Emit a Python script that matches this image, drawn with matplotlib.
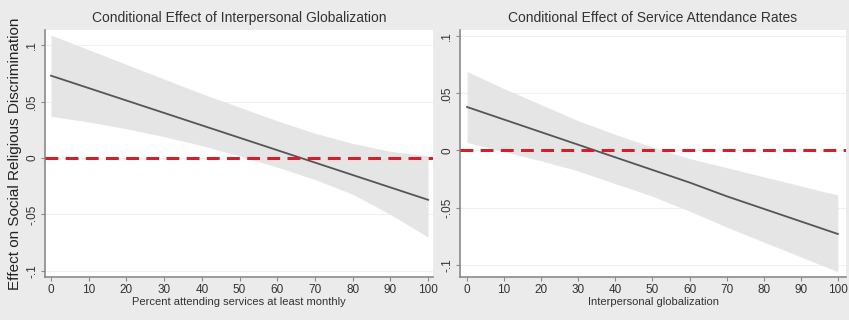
# Conditional effect plots (two panels), Stata-style look

import matplotlib
matplotlib.use('Agg')
import matplotlib.pyplot as plt

plt.rcParams['font.family'] = ['Liberation Sans', 'DejaVu Sans']

# ---- data ----
x_vals = [0, 10, 20, 30, 40, 50, 60, 70, 80, 90, 100]

# left panel: effect of interpersonal globalization by % attending services
left_effect = [0.073, 0.062, 0.051, 0.040, 0.029, 0.018, 0.007, -0.004, -0.015, -0.026, -0.037]
left_upper = [0.109, 0.096, 0.083, 0.070, 0.057, 0.045, 0.033, 0.022, 0.013, 0.006, 0.002]
left_lower = [0.037, 0.032, 0.026, 0.019, 0.011, 0.002, -0.008, -0.019, -0.032, -0.050, -0.070]

# right panel: effect of service attendance by interpersonal globalization
right_effect = [0.038, 0.027, 0.016, 0.005, -0.006, -0.017, -0.028, -0.040, -0.051, -0.062, -0.073]
right_upper = [0.069, 0.054, 0.040, 0.026, 0.014, 0.003, -0.007, -0.015, -0.023, -0.031, -0.039]
right_lower = [0.007, -0.001, -0.009, -0.018, -0.029, -0.040, -0.053, -0.067, -0.080, -0.093, -0.106]

titles = ['Conditional Effect of Interpersonal Globalization',
          'Conditional Effect of Service Attendance Rates']
xlabels = ['Percent attending services at least monthly', 'Interpersonal globalization']
ylabel = 'Effect on Social Religious Discrimination'
xticks = [0, 10, 20, 30, 40, 50, 60, 70, 80, 90, 100]
yticks = [-0.1, -0.05, 0, 0.05, 0.1]
ytick_labels = ['-.1', '-.05', '0', '.05', '.1']

W, H = 849, 320
bg = '#ebebeb'
fig = plt.figure(figsize=(W / 100, H / 100), dpi=100, facecolor=bg)


def px_axes(x0, x1, y0, y1):
    return fig.add_axes([x0 / W, 1 - y1 / H, (x1 - x0) / W, (y1 - y0) / H])


ax_l = px_axes(45, 433, 30, 277)
ax_r = px_axes(460, 846, 30, 277)

panels = [
    (ax_l, left_effect, left_upper, left_lower, (-1.6, 101.3), (-0.1054, 0.1135)),
    (ax_r, right_effect, right_upper, right_lower, (-1.9, 102.2), (-0.1106, 0.1053)),
]

for i, (ax, eff, up, lo, xl, yl) in enumerate(panels):
    ax.set_facecolor('white')
    ax.fill_between(x_vals, lo, up, color='#e5e5e5', lw=0, zorder=1)
    ax.plot(x_vals, eff, color='#555555', lw=1.3, zorder=3)
    ax.axhline(0, color='#d0202e', lw=2.2, ls=(0, (4.2, 2.4)), zorder=4)

    ax.set_xlim(*xl)
    ax.set_ylim(*yl)
    ax.set_xticks(xticks)
    ax.set_yticks(yticks)
    ax.set_yticklabels(ytick_labels, rotation=90, va='center')
    ax.grid(axis='y', color='#f0f0f0', lw=0.8, zorder=0)
    ax.set_axisbelow(True)

    for s in ['top', 'right']:
        ax.spines[s].set_visible(False)
    for s in ['left', 'bottom']:
        ax.spines[s].set_color('#8a8a8a')
        ax.spines[s].set_linewidth(1.2)
    ax.tick_params(colors='#8a8a8a', labelcolor='#333333', labelsize=8.5,
                   length=3, width=0.8, pad=2)

    ax.set_xlabel(xlabels[i], fontsize=8, color='#333333', labelpad=1)
    ax.set_title(titles[i], fontsize=10, color='#333333', pad=6)

ax_l.set_ylabel(ylabel, fontsize=11, color='#222222', labelpad=3)

fig.savefig('out.png', dpi=100, facecolor=bg)
